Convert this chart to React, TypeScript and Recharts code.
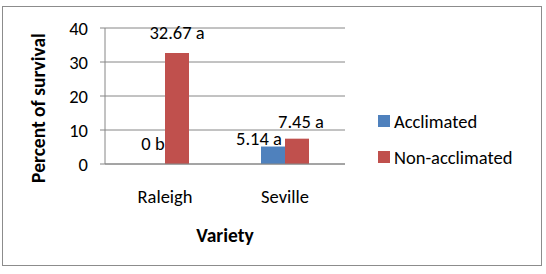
import React from "react";
import { Bar, BarChart, CartesianGrid, LabelList, XAxis, YAxis } from "recharts";

const varieties = ["Raleigh", "Seville"];
const acclimated = [0, 5.14];
const nonAcclimated = [32.67, 7.45];
const acclimatedLetters = ["b", "a"];
const nonAcclimatedLetters = ["a", "a"];
const yTicks = [0, 10, 20, 30, 40];
const seriesNames = ["Acclimated", "Non-acclimated"];

const BLUE = "#4F81BD";
const RED = "#C0504D";
const FONT = "Carlito, Calibri, Lato, sans-serif";

const data = varieties.map((variety, i) => ({
  variety,
  acclimated: acclimated[i],
  nonAcclimated: nonAcclimated[i],
  acclimatedText: `${acclimated[i]} ${acclimatedLetters[i]}`,
  nonAcclimatedText: `${nonAcclimated[i]} ${nonAcclimatedLetters[i]}`,
}));

// little nudges so the Seville labels don't collide
const acclimatedNudge = [
  { dx: 0, dy: 0 },
  { dx: -14, dy: 12 },
];
const nonAcclimatedNudge = [
  { dx: 0, dy: 0 },
  { dx: 4, dy: 3 },
];

const makeLabel = (nudge: { dx: number; dy: number }[]) => (props: any) => {
  const { x, y, width, value, index } = props;
  const n = nudge[index] || { dx: 0, dy: 0 };
  return (
    <text
      x={Number(x) + Number(width) / 2 + n.dx}
      y={Number(y) - 14 + n.dy}
      textAnchor="middle"
      fontFamily={FONT}
      fontSize={18.5}
      fill="#000"
    >
      {value}
    </text>
  );
};

const ChartLegend = () => (
  <div
    style={{
      position: "absolute",
      left: 378,
      top: 103,
      fontFamily: FONT,
      fontSize: 18.5,
      color: "#000",
    }}
  >
    {seriesNames.map((name, i) => (
      <div key={name} style={{ display: "flex", alignItems: "center", height: 36 }}>
        <span
          style={{
            width: 12,
            height: 12,
            background: i === 0 ? BLUE : RED,
            marginRight: 4,
            display: "inline-block",
          }}
        />
        {name}
      </div>
    ))}
  </div>
);

export default function App() {
  return (
    <div
      style={{
        position: "fixed",
        left: 0,
        top: 0,
        width: 546,
        height: 274,
        background: "#fff",
      }}
    >
      <div style={{ position: "absolute", left: 0, top: 0 }}>
        <BarChart
          width={546}
          height={274}
          data={data}
          margin={{ top: 28, right: 201, bottom: 0, left: 0 }}
          barCategoryGap={36}
          barGap={0}
        >
          <CartesianGrid vertical={false} stroke="#868686" strokeWidth={1} />
          <XAxis
            dataKey="variety"
            height={110}
            axisLine={{ stroke: "#868686" }}
            tickLine={false}
            tickSize={0}
            tickMargin={26}
            tick={{ fill: "#000", fontFamily: FONT, fontSize: 18.5 }}
            label={{
              value: "Variety",
              position: "insideTop",
              offset: 64,
              fill: "#000",
              fontFamily: FONT,
              fontSize: 19.5,
              fontWeight: "bold",
            }}
          />
          <YAxis
            width={105}
            domain={[0, 40]}
            ticks={yTicks}
            interval={0}
            axisLine={{ stroke: "#868686" }}
            tickLine={{ stroke: "#868686" }}
            tickSize={5}
            tickMargin={12}
            tick={{ fill: "#000", fontFamily: FONT, fontSize: 18.5 }}
            label={{
              value: "Percent of survival",
              angle: -90,
              position: "insideLeft",
              offset: 38,
              dy: 12,
              style: { textAnchor: "middle" },
              fill: "#000",
              fontFamily: FONT,
              fontSize: 19.5,
              fontWeight: "bold",
            }}
          />
          <Bar
            dataKey="acclimated"
            name={seriesNames[0]}
            fill={BLUE}
            minPointSize={0.01}
            isAnimationActive={false}
          >
            <LabelList dataKey="acclimatedText" content={makeLabel(acclimatedNudge)} />
          </Bar>
          <Bar
            dataKey="nonAcclimated"
            name={seriesNames[1]}
            fill={RED}
            isAnimationActive={false}
          >
            <LabelList
              dataKey="nonAcclimatedText"
              content={makeLabel(nonAcclimatedNudge)}
            />
          </Bar>
        </BarChart>
      </div>
      <ChartLegend />
      <div
        style={{
          position: "absolute",
          left: 2,
          top: 6,
          width: 538,
          height: 258,
          border: "1px solid #8c8c8c",
          pointerEvents: "none",
        }}
      />
    </div>
  );
}
